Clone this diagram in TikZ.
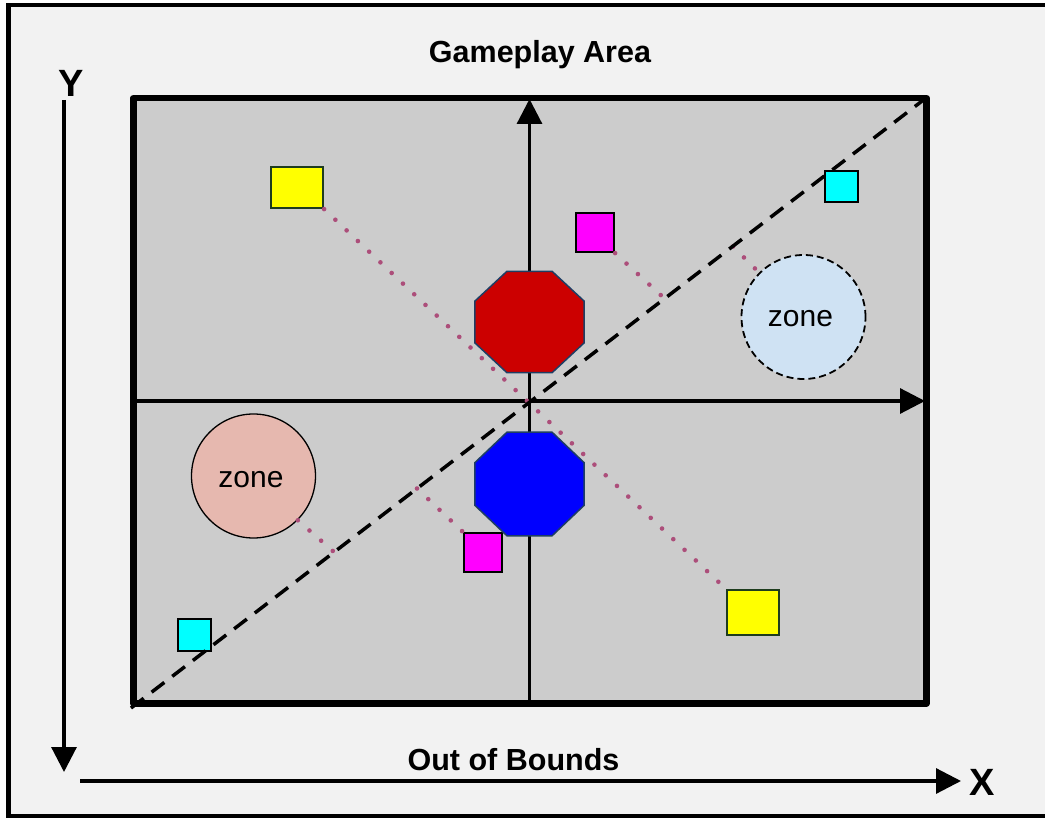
\documentclass[tikz,border=0pt]{standalone}
\usepackage{fontspec}
\setmainfont{Liberation Sans}
\usetikzlibrary{arrows.meta,shapes.geometric,calc}

\definecolor{pagebg}{RGB}{242,242,242}
\definecolor{fieldgray}{RGB}{204,204,204}
\definecolor{dotcolor}{RGB}{172,78,122}
\definecolor{octoedge}{RGB}{30,62,100}
\definecolor{stopred}{RGB}{204,0,0}
\definecolor{stopblue}{RGB}{0,0,255}
\definecolor{zoneblue}{RGB}{207,226,243}
\definecolor{zonepink}{RGB}{230,184,175}
\definecolor{markyellow}{RGB}{255,255,0}
\definecolor{markmagenta}{RGB}{255,0,255}
\definecolor{markcyan}{RGB}{0,255,255}
\definecolor{yellowedge}{RGB}{30,60,30}

\begin{document}
\begin{tikzpicture}[x=1pt,y=-1pt,
  axisline/.style={line width=3.2pt,-{Triangle[length=25pt,width=25pt]}},
  heading/.style={font=\fontsize{30.5}{36}\selectfont\bfseries,anchor=base,inner sep=0pt},
  axislabel/.style={font=\fontsize{38}{44}\selectfont\bfseries,anchor=base,inner sep=0pt},
  zonelabel/.style={font=\fontsize{30}{36}\selectfont,anchor=base,inner sep=0pt},
  octo/.style={regular polygon,regular polygon sides=8,minimum size=118pt,inner sep=0pt,
    draw=octoedge,line width=1.5pt},
  marker/.style={rectangle,draw=black,line width=2.2pt,inner sep=0pt},
  zonedisc/.style={circle,minimum size=124pt,inner sep=0pt},
  sightline/.style={draw=dotcolor,line width=4.6pt,line cap=round,dash pattern=on 0pt off 15.5pt},
  diagonal/.style={line width=3.5pt,dash pattern=on 16pt off 10pt}]

\useasboundingbox (0,0) rectangle (1045,818);

% page background and outer frame (right edge runs off the page)
\fill[white] (0,0) rectangle (1045,818);
\draw[line width=4.5pt,fill=pagebg] (8.5,5) rectangle (1060,816);

% playing field
\draw[line width=6.5pt,line join=round,fill=fieldgray] (133.5,98) rectangle (926.5,703.5);

% field axes
\coordinate (vbot) at (529.5,703.5);
\coordinate (vtop) at (529.5,99);
\coordinate (hleft) at (133.5,401);
\coordinate (hright) at (925,401);
\draw[axisline] (vbot) -- (vtop);
\draw[axisline] (hleft) -- (hright);

% outer coordinate axes
\coordinate (ytop) at (64,100);
\coordinate (ybot) at (64,772);
\coordinate (xleft) at (80,781);
\coordinate (xright) at (961,781);
\draw[axisline] (ytop) -- (ybot);
\draw[axisline] (xleft) -- (xright);

% labels
\node[heading] (title) at (540,63) {Gameplay Area};
\node[heading] (oob) at (513.5,770) {Out of Bounds};
\node[axislabel] (ylab) at (71.5,97) {Y};
\node[axislabel] (xlab) at (982.5,795) {X};

% zones
\node[zonedisc,fill=zoneblue,draw=black,line width=1.8pt,dash pattern=on 7pt off 4pt] (bzone) at (803.5,317) {};
\node[zonelabel] at (800.5,327) {zone};
\node[zonedisc,fill=zonepink,draw=black,line width=1.3pt] (pzone) at (253.5,476) {};
\node[zonelabel] at (251,487) {zone};

% markers
\node[marker,draw=yellowedge,fill=markyellow,minimum width=52pt,minimum height=41pt] (y1) at (297,187.5) {};
\node[marker,fill=markyellow,draw=yellowedge,minimum width=52pt,minimum height=45pt] (y2) at (753,612.5) {};
\node[marker,fill=markmagenta,minimum width=38pt,minimum height=39pt] (m1) at (595,232.5) {};
\node[marker,fill=markmagenta,minimum width=38pt,minimum height=39pt] (m2) at (483,552.5) {};
\node[marker,fill=markcyan,minimum width=33pt,minimum height=31pt] (c1) at (841.5,186.5) {};
\node[marker,fill=markcyan,minimum width=33pt,minimum height=32pt] (c2) at (194.5,635) {};

% diagonal end points and sight-line feet on it
\coordinate (diagA) at (131,708);
\coordinate (diagB) at (926,98);
\coordinate (f1) at (664.5,298.5);
\coordinate (f2) at (733,246.5);
\coordinate (f3) at (334,552);
\coordinate (f4) at (417,488.5);

% dotted sight lines
\draw[sightline] (y1.south east) -- (y2.north west);
\draw[sightline] (m1.south east) -- (f1);
\draw[sightline] (f2) -- (bzone.135);
\draw[sightline] (pzone.-45) -- (f3);
\draw[sightline] (f4) -- (m2.north west);

% obstacles
\begin{scope}[shift={(529.5,322)},yscale=0.93]
  \node[octo,fill=stopred,transform shape] (redstop) at (0,0) {};
\end{scope}
\begin{scope}[shift={(529.5,484)},yscale=0.95]
  \node[octo,fill=stopblue,transform shape] (bluestop) at (0,0) {};
\end{scope}

% dashed diagonal
\draw[diagonal] (diagA) -- (diagB);

\end{tikzpicture}
\end{document}
